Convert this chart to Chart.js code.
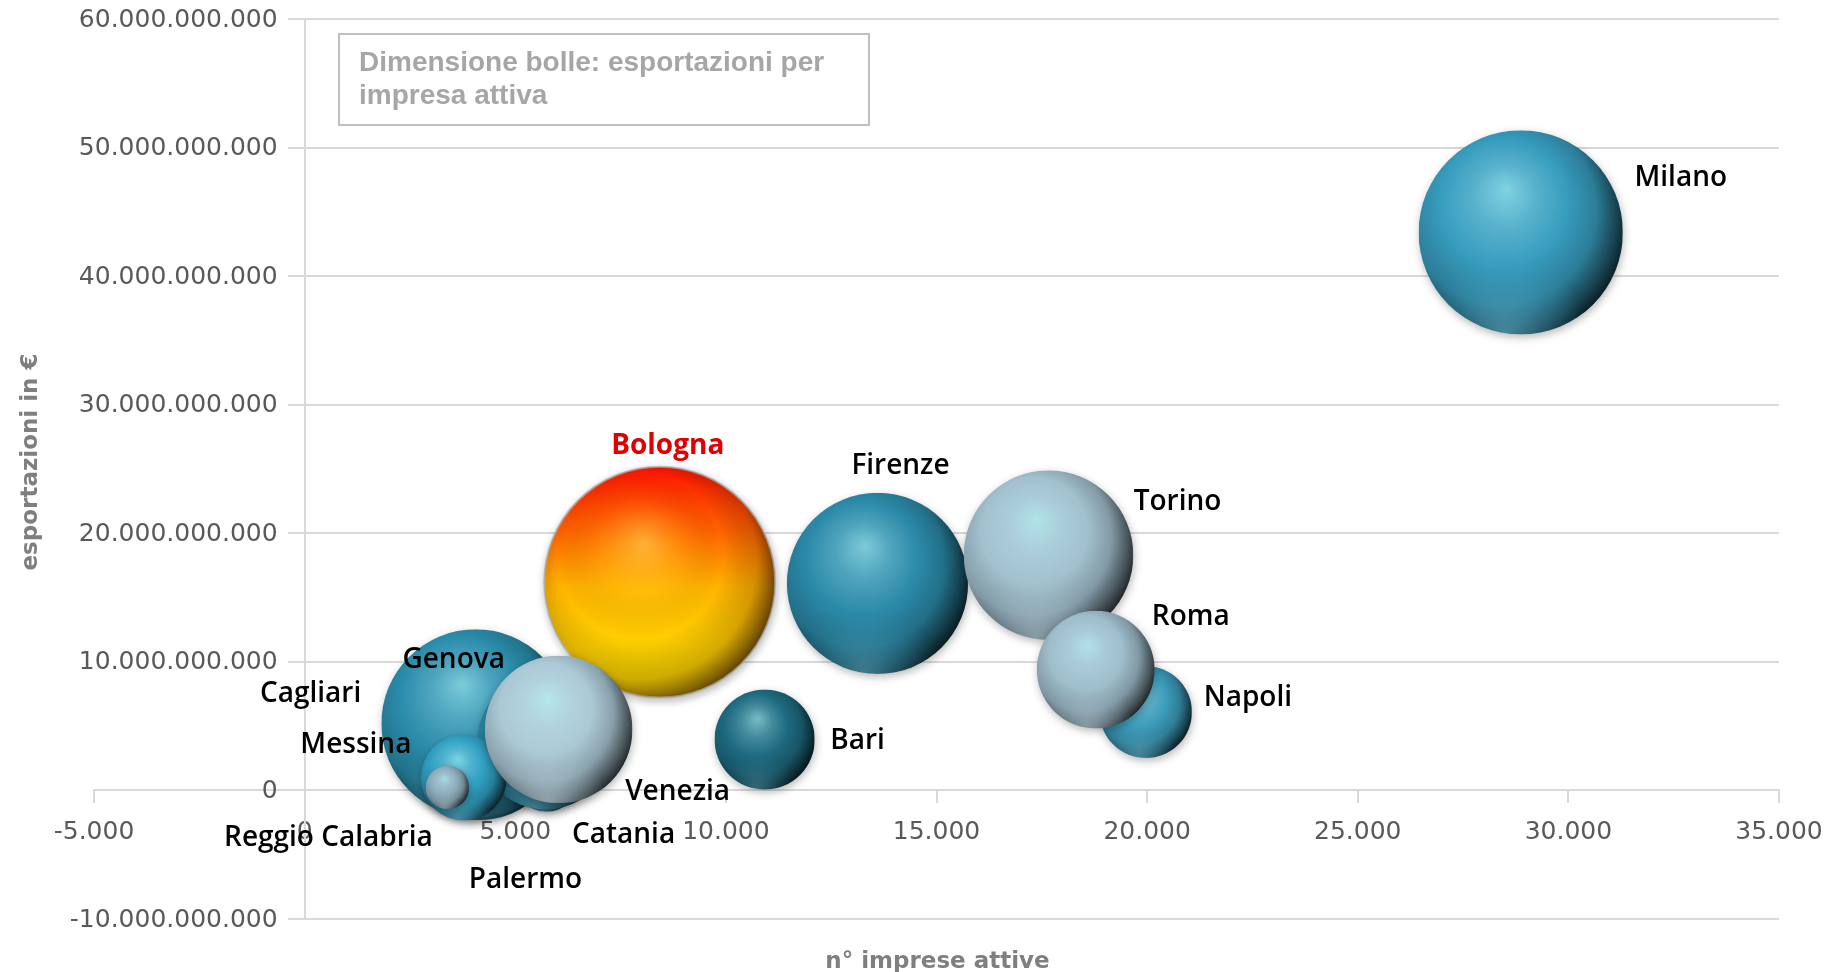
<!DOCTYPE html>
<html>
<head>
<meta charset="utf-8">
<title>Esportazioni e imprese attive</title>
<script src="https://cdn.jsdelivr.net/npm/chart.js@4.4.1/dist/chart.umd.min.js"></script>
<style>
  html, body { margin: 0; padding: 0; background: #fff; overflow: hidden; }
  #wrap { width: 100vw; height: 100vh; }
</style>
</head>
<body>
<div id="wrap"><canvas id="bubbles"></canvas></div>
<script>
// values (order = drawing order, later ones on top)
const cities = ["Milano", "Firenze", "Torino", "Napoli", "Roma", "Bari", "Bologna",
  "Cagliari", "Genova", "Palermo", "Catania", "Messina", "Reggio Calabria", "Venezia"];
const activeFirms = [28870, 13600, 17660, 19970, 18780, 10920, 8430,
  4130, 4060, 5740, 5720, 3780, 3390, 6030];
const exportsEur = [43.4e9, 16.1e9, 18.3e9, 6.1e9, 9.4e9, 3.96e9, 16.2e9,
  4.3e9, 5.2e9, 0.9e9, 3.81e9, 1.0e9, 0.23e9, 4.74e9];
// bubble size: exports per active firm, thousand €
const exportPerFirm = [1503, 1184, 1036, 306, 500, 362, 1921,
  1042, 1281, 157, 666, 265, 68, 785];

const xMin = -5000, xMax = 35000, xStep = 5000;
const yMin = -10e9, yMax = 60e9, yStep = 10e9;

// styling
const baseColors = ["#379CBE", "#2B8AA9", "#A2C0CE", "#3B9BBA", "#9FBDCB", "#1E6A80", "bologna",
  "#2A8AAA", "#2B8DAC", "#2A8AAA", "#2C8FAE", "#31A0C2", "#8EACBB", "#ABC8D5"];
const labelOffsets = [[160, -54], [23, -117], [129, -53], [102, -14], [95, -53], [93, 2], [8, -136],
  [-168, -41], [-22, -64], [-21, 101], [78, 94], [-108, -33], [-119, 51], [119, 63]];

const pad = { left: 94, right: 62, top: 19, bottom: 53 };
const gridColor = "#D9D9D9";
const tickFont = { family: "'DejaVu Sans', sans-serif", size: 25 };
const tickColor = "#595959";

function dotted(v) {
  const s = Math.abs(Math.round(v)).toString().replace(/\B(?=(\d{3})+(?!\d))/g, ".");
  return (v < 0 ? "-" : "") + s;
}

// bubble radius, Excel-like: largest bubble = 25% of the shorter plot side (diameter)
const W = window.innerWidth, H = window.innerHeight;
const plotW = W - pad.left - pad.right;
const plotH = H - pad.top - pad.bottom;
const rMax = 0.1283 * Math.min(plotW, plotH);
const maxSize = Math.max(...exportPerFirm);

const points = cities.map((c, i) => ({
  x: activeFirms[i],
  y: exportsEur[i],
  r: rMax * Math.sqrt(exportPerFirm[i] / maxSize),
}));

function hexToRgb(h) {
  const n = parseInt(h.slice(1), 16);
  return [(n >> 16) & 255, (n >> 8) & 255, n & 255];
}
function mix(a, b, t) { return a.map((v, i) => Math.round(v + (b[i] - v) * t)); }
function rgba(c, a = 1) { return `rgba(${c[0]},${c[1]},${c[2]},${a})`; }

function paintSphere(g, r, hex) {
  const b = hexToRgb(hex);
  const white = [255, 255, 255], black = [0, 0, 0];
  const body = g.createRadialGradient(r * 0.86, r * 0.58, 0, r * 0.8, r * 0.85, r * 1.25);
  body.addColorStop(0, rgba(mix(b, [190, 255, 255], 0.55)));
  body.addColorStop(0.25, rgba(mix(b, [200, 250, 255], 0.22)));
  body.addColorStop(0.5, rgba(b));
  body.addColorStop(0.74, rgba(mix(b, black, 0.2)));
  body.addColorStop(0.9, rgba(mix(b, black, 0.55)));
  body.addColorStop(1, rgba(mix(b, black, 0.8)));
  g.fillStyle = body;
  g.fillRect(0, 0, 2 * r, 2 * r);
  // soft light reflected along the lower rim
  const rim = g.createRadialGradient(r * 0.85, r * 2.0, 0, r * 0.85, r * 2.0, r * 0.8);
  rim.addColorStop(0, rgba(mix(b, white, 0.25), 0.6));
  rim.addColorStop(1, rgba(b, 0));
  g.fillStyle = rim;
  g.fillRect(0, 0, 2 * r, 2 * r);
}

function paintBologna(g, r) {
  const lin = g.createLinearGradient(0, 0, 0, 2 * r);
  lin.addColorStop(0, "#FF1400");
  lin.addColorStop(0.28, "#FF6400");
  lin.addColorStop(0.52, "#FFB400");
  lin.addColorStop(0.78, "#FFD200");
  lin.addColorStop(1, "#EDD400");
  g.fillStyle = lin;
  g.fillRect(0, 0, 2 * r, 2 * r);
  const sh = g.createRadialGradient(r * 0.86, r * 0.66, 0, r * 0.8, r * 0.85, r * 1.25);
  sh.addColorStop(0, "rgba(255,235,110,0.5)");
  sh.addColorStop(0.3, "rgba(255,215,60,0.12)");
  sh.addColorStop(0.58, "rgba(0,0,0,0)");
  sh.addColorStop(0.82, "rgba(70,30,0,0.22)");
  sh.addColorStop(1, "rgba(40,15,0,0.75)");
  g.fillStyle = sh;
  g.fillRect(0, 0, 2 * r, 2 * r);
}

const patternCache = {};
function sphereFill(context) {
  const i = context.dataIndex;
  const chart = context.chart;
  const raw = context.raw;
  const fallback = baseColors[i] === "bologna" ? "#FFB400" : baseColors[i];
  if (!raw) return fallback;
  const cx = chart.scales.x.getPixelForValue(raw.x);
  const cy = chart.scales.y.getPixelForValue(raw.y);
  if (!isFinite(cx) || !isFinite(cy)) return fallback;
  const key = i + ":" + Math.round(cx) + ":" + Math.round(cy);
  if (patternCache[key]) return patternCache[key];
  const r = raw.r;
  const dpr = chart.currentDevicePixelRatio || 1;
  const off = document.createElement("canvas");
  off.width = off.height = Math.ceil(2 * r * dpr) + 2;
  const g = off.getContext("2d");
  g.scale(dpr, dpr);
  if (baseColors[i] === "bologna") paintBologna(g, r); else paintSphere(g, r, baseColors[i]);
  const pat = chart.ctx.createPattern(off, "no-repeat");
  pat.setTransform(new DOMMatrix([1 / dpr, 0, 0, 1 / dpr, cx - r, cy - r]));
  patternCache[key] = pat;
  return pat;
}

// positioned axes should not eat into the plot area
function noPadding(scale) {
  scale.paddingLeft = scale.paddingRight = scale.paddingTop = scale.paddingBottom = 0;
}

const decorations = {
  id: "decorations",
  beforeDatasetsDraw(chart) {
    const { ctx, chartArea, scales: { x, y } } = chart;
    const x0 = x.getPixelForValue(0);
    ctx.save();
    ctx.strokeStyle = gridColor;
    ctx.lineWidth = 2;
    y.ticks.forEach(t => {
      const py = Math.round(y.getPixelForValue(t.value));
      ctx.beginPath();
      ctx.moveTo(x0, py);
      ctx.lineTo(chartArea.right, py);
      ctx.stroke();
    });
    // y tick labels, left of the axis that crosses at x = 0
    ctx.fillStyle = tickColor;
    ctx.font = `${tickFont.size}px ${tickFont.family}`;
    ctx.textAlign = "right";
    ctx.textBaseline = "middle";
    y.ticks.forEach(t => {
      ctx.fillText(dotted(t.value), x0 - 27, y.getPixelForValue(t.value) + 1);
    });
    // note box
    const bx = chartArea.left + 245, by = chartArea.top + 15;
    ctx.fillStyle = "#fff";
    ctx.fillRect(bx, by, 530, 91);
    ctx.strokeStyle = "#BFBFBF";
    ctx.lineWidth = 2;
    ctx.strokeRect(bx, by, 530, 91);
    ctx.fillStyle = "#A6A6A6";
    ctx.font = "bold 28px 'Liberation Sans', Arial, sans-serif";
    ctx.textAlign = "left";
    ctx.textBaseline = "alphabetic";
    ctx.fillText("Dimensione bolle: esportazioni per", bx + 20, by + 37);
    ctx.fillText("impresa attiva", bx + 20, by + 70);
    ctx.restore();
    // soft drop shadow under the bubbles
    ctx.save();
    ctx.shadowColor = "rgba(0,0,0,0.28)";
    ctx.shadowBlur = 8;
    ctx.shadowOffsetX = 1;
    ctx.shadowOffsetY = 3;
  },
  afterDatasetsDraw(chart) {
    const ctx = chart.ctx;
    ctx.restore();
    const meta = chart.getDatasetMeta(0);
    ctx.save();
    ctx.textAlign = "center";
    ctx.textBaseline = "middle";
    meta.data.forEach((el, i) => {
      const [dx, dy] = labelOffsets[i];
      const isBo = cities[i] === "Bologna";
      ctx.font = (isBo ? "bold" : "600") + " 28px 'Open Sans', sans-serif";
      ctx.fillStyle = isBo ? "#E00000" : "#000";
      ctx.fillText(cities[i], el.x + dx, el.y + dy);
    });
    ctx.restore();
  },
  afterDraw(chart) {
    const { ctx, chartArea } = chart;
    ctx.save();
    ctx.fillStyle = "#7F7F7F";
    ctx.font = "bold 23px 'DejaVu Sans', sans-serif";
    ctx.textAlign = "center";
    ctx.textBaseline = "alphabetic";
    ctx.fillText("n° imprese attive", (chartArea.left + chartArea.right) / 2 + 1, chart.height - 4);
    ctx.translate(37, (chartArea.top + chartArea.bottom) / 2 - 7);
    ctx.rotate(-Math.PI / 2);
    ctx.fillText("esportazioni in €", 0, 0);
    ctx.restore();
  },
};

const chart = new Chart(document.getElementById("bubbles"), {
  type: "bubble",
  data: {
    datasets: [{
      data: points,
      backgroundColor: sphereFill,
      borderWidth: ctx => (baseColors[ctx.dataIndex] === "bologna" ? 2 : 0),
      borderColor: "rgba(170,170,170,0.7)",
    }],
  },
  options: {
    responsive: true,
    maintainAspectRatio: false,
    animation: false,
    events: [],
    layout: { padding: Object.assign({}, pad), autoPadding: false },
    plugins: { legend: { display: false }, tooltip: { enabled: false } },
    scales: {
      x: {
        type: "linear",
        min: xMin,
        max: xMax,
        position: { y: 0 },
        afterFit: noPadding,
        ticks: { stepSize: xStep, callback: v => dotted(v), font: tickFont, color: tickColor,
          padding: 15, maxRotation: 0, autoSkip: false },
        grid: { drawOnChartArea: false, tickLength: 12, color: gridColor, lineWidth: 2 },
        border: { color: gridColor, width: 2 },
      },
      y: {
        type: "linear",
        min: yMin,
        max: yMax,
        position: { x: 0 },
        afterFit: noPadding,
        ticks: { stepSize: yStep, display: false },
        grid: { drawOnChartArea: false, tickLength: 16, color: gridColor, lineWidth: 2 },
        border: { color: gridColor, width: 2 },
      },
    },
  },
  plugins: [decorations],
});
</script>
</body>
</html>
